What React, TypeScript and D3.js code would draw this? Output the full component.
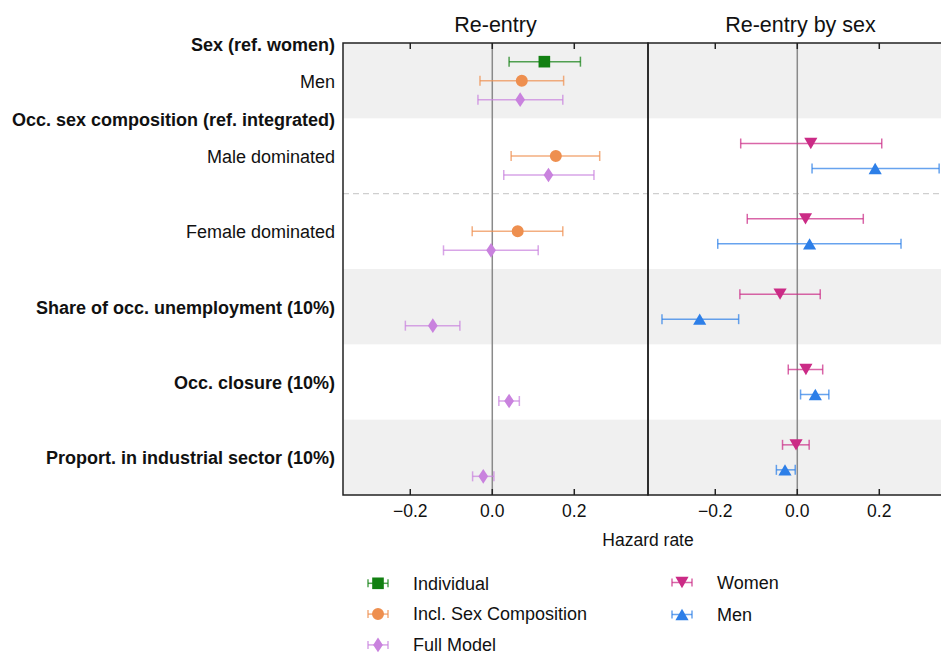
import React from "react";
import * as d3 from "d3";

// rows of the forest plot, top to bottom
const rowLabels = [
  "Men",
  "Male dominated",
  "Female dominated",
  "Share of occ. unemployment (10%)",
  "Occ. closure (10%)",
  "Proport. in industrial sector (10%)",
];
const boldRow = [false, false, false, true, true, true];
const groupHeaders = ["Sex (ref. women)", "Occ. sex composition (ref. integrated)"];
const groupHeaderRows = [0, 1];
const shadedRows = [0, 3, 5];
const dashedBelowRows = [1];

const panelTitles = ["Re-entry", "Re-entry by sex"];
const xTitle = "Hazard rate";
const xTicks = [-0.2, 0.0, 0.2];

// [estimate, lower, upper] per row, null where the term is not in the model
type CI = [number, number, number] | null;
const individual: CI[] = [[0.127, 0.041, 0.215], null, null, null, null, null];
const inclSexComp: CI[] = [
  [0.072, -0.03, 0.174],
  [0.155, 0.046, 0.262],
  [0.062, -0.049, 0.172],
  null,
  null,
  null,
];
const fullModel: CI[] = [
  [0.068, -0.035, 0.172],
  [0.137, 0.028, 0.248],
  [-0.003, -0.119, 0.112],
  [-0.145, -0.212, -0.079],
  [0.041, 0.016, 0.066],
  [-0.022, -0.048, 0.004],
];
const women: CI[] = [
  null,
  [0.033, -0.138, 0.206],
  [0.02, -0.122, 0.161],
  [-0.042, -0.14, 0.056],
  [0.021, -0.022, 0.062],
  [-0.003, -0.036, 0.029],
];
const men: CI[] = [
  null,
  [0.19, 0.036, 0.346],
  [0.03, -0.194, 0.253],
  [-0.238, -0.33, -0.143],
  [0.044, 0.008, 0.077],
  [-0.03, -0.051, -0.005],
];

const leftSeries = [
  { name: "Individual", values: individual, color: "#128012", symbol: d3.symbolSquare, size: 135, flip: false },
  { name: "Incl. Sex Composition", values: inclSexComp, color: "#ee8f4f", symbol: d3.symbolCircle, size: 113, flip: false },
  { name: "Full Model", values: fullModel, color: "#c982de", symbol: d3.symbolDiamond, size: 62, flip: false },
];
const rightSeries = [
  { name: "Women", values: women, color: "#cb2b86", symbol: d3.symbolTriangle, size: 75, flip: true },
  { name: "Men", values: men, color: "#2d7fe8", symbol: d3.symbolTriangle, size: 75, flip: false },
];

const W = 941;
const H = 654;
const top = 43;
const bottom = 495;
const panels = [
  { x0: 343, x1: 648 },
  { x0: 648, x1: 953 },
];
const font = "'Liberation Sans', Arial, Helvetica, sans-serif";
const xDomain: [number, number] = [-0.3641, 0.3798];

const y = d3.scaleBand<number>().domain(d3.range(rowLabels.length)).range([top, bottom]);
const leftOffset = d3.scalePoint<string>().domain(leftSeries.map(d => d.name)).range([-19, 19]);
const rightOffset = d3.scalePoint<string>().domain(rightSeries.map(d => d.name)).range([-12.5, 12.5]);
const fmt = d3.format(".1f");

type Series = typeof leftSeries[number];

function Marker({ s, cx, cy }: { s: Series; cx: number; cy: number }) {
  const path = d3.symbol().type(s.symbol).size(s.size)()!;
  let t = `translate(${cx},${cy})`;
  if (s.symbol === d3.symbolTriangle) {
    // center the triangle on its bounding box
    const r = Math.sqrt(s.size / (Math.sqrt(3) * 3));
    t += s.flip ? ` translate(0,${-r / 2}) rotate(180)` : ` translate(0,${r / 2})`;
  }
  if (s.symbol === d3.symbolDiamond) t += " scale(1.15,1)";
  return <path d={path} transform={t} fill={s.color} />;
}

function ErrorBar({ s, x0, x1, cy, cap }: { s: Series; x0: number; x1: number; cy: number; cap: number }) {
  return (
    <g stroke={s.color} strokeOpacity={0.72} strokeWidth={1.5} fill="none">
      <line x1={x0} x2={x1} y1={cy} y2={cy} />
      <line x1={x0} x2={x0} y1={cy - cap} y2={cy + cap} />
      <line x1={x1} x2={x1} y1={cy - cap} y2={cy + cap} />
    </g>
  );
}

function Panel({ i, series, offset }: { i: number; series: Series[]; offset: d3.ScalePoint<string> }) {
  const { x0, x1 } = panels[i];
  const x = d3.scaleLinear().domain(xDomain).range([x0, x1]);
  const cx = (x0 + x1) / 2;
  return (
    <g>
      <line x1={x(0)} x2={x(0)} y1={top} y2={bottom} stroke="#8a8a8a" strokeWidth={1.5} />
      {series.map(s =>
        s.values.map((v, r) => {
          if (!v) return null;
          const cy = y(r)! + y.bandwidth() / 2 + offset(s.name)!;
          return (
            <g key={s.name + r}>
              <ErrorBar s={s} x0={x(v[1])} x1={x(v[2])} cy={cy} cap={5} />
              <Marker s={s} cx={x(v[0])} cy={cy} />
            </g>
          );
        })
      )}
      {xTicks.map(t => (
        <g key={t}>
          <line x1={x(t)} x2={x(t)} y1={top} y2={top + 6} stroke="#222" strokeWidth={1.5} />
          <line x1={x(t)} x2={x(t)} y1={bottom} y2={bottom - 6} stroke="#222" strokeWidth={1.5} />
          <text x={x(t)} y={517} textAnchor="middle" fontSize={17.5} fill="#111">
            {fmt(t)}
          </text>
        </g>
      ))}
      <rect x={x0} y={top} width={x1 - x0} height={bottom - top} fill="none" stroke="#222" strokeWidth={1.5} />
      <text x={cx} y={32} textAnchor="middle" fontSize={21.5} fill="#111">
        {panelTitles[i]}
      </text>
    </g>
  );
}

function LegendItem({ s, mx, tx, cy }: { s: Series; mx: number; tx: number; cy: number }) {
  return (
    <g>
      <ErrorBar s={s} x0={mx - 10} x1={mx + 10} cy={cy} cap={4} />
      <Marker s={s} cx={mx} cy={cy} />
      <text x={tx} y={cy + 6.3} fontSize={18} fill="#111">
        {s.name}
      </text>
    </g>
  );
}

export default function App() {
  const bw = y.bandwidth();
  return (
    <div style={{ position: "absolute", left: 0, top: 0 }}>
      <svg width={W} height={H} fontFamily={font} style={{ display: "block", background: "#fff" }}>
        {shadedRows.map(r => (
          <rect key={r} x={panels[0].x0} y={y(r)} width={panels[1].x1 - panels[0].x0} height={bw} fill="#f0f0f0" />
        ))}
        {dashedBelowRows.map(r => (
          <line
            key={r}
            x1={panels[0].x0}
            x2={panels[1].x1}
            y1={y(r)! + bw}
            y2={y(r)! + bw}
            stroke="#cfcfcf"
            strokeWidth={1.3}
            strokeDasharray="6,4"
          />
        ))}
        <Panel i={0} series={leftSeries} offset={leftOffset} />
        <Panel i={1} series={rightSeries} offset={rightOffset} />

        {rowLabels.map((l, r) => (
          <text
            key={l}
            x={335}
            y={y(r)! + bw / 2 + 7}
            textAnchor="end"
            fontSize={18}
            fontWeight={boldRow[r] ? "bold" : "normal"}
            fill="#111"
          >
            {l}
          </text>
        ))}
        {groupHeaders.map((l, k) => (
          <text key={l} x={335} y={y(groupHeaderRows[k])! + 8} textAnchor="end" fontSize={18} fontWeight="bold" fill="#111">
            {l}
          </text>
        ))}

        <text x={panels[0].x1} y={546} textAnchor="middle" fontSize={17.5} fill="#111">
          {xTitle}
        </text>

        {leftSeries.map((s, k) => (
          <LegendItem key={s.name} s={s} mx={378} tx={413} cy={583.3 + k * 30.8} />
        ))}
        {rightSeries.map((s, k) => (
          <LegendItem key={s.name} s={s} mx={682} tx={717} cy={582.5 + k * 32} />
        ))}
      </svg>
    </div>
  );
}
